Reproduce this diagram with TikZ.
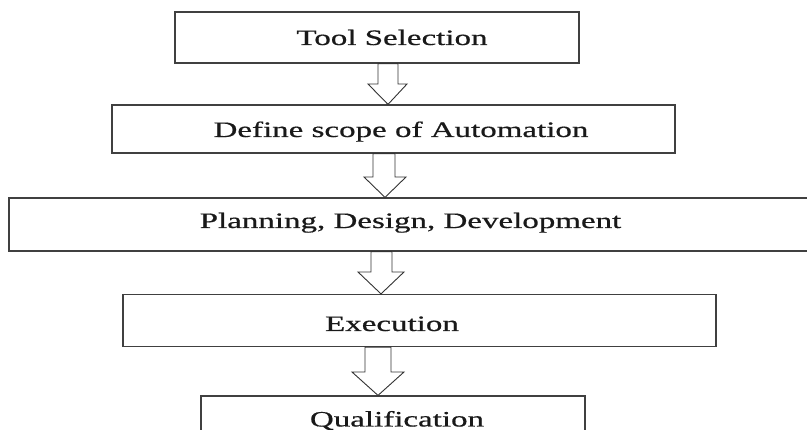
\documentclass[tikz,border=0pt]{standalone}
\usepackage{fontspec}
\setmainfont{Liberation Serif}
\newfontfamily\lblfont{Liberation Serif}[FakeBold=0.5]
\begin{document}
\begin{tikzpicture}[x=1pt,y=-1pt,
  box/.style={draw=black!75, line width=1.2pt, inner sep=0pt, fill=white},
  lbl/.style={font=\lblfont\fontsize{22}{26}\selectfont, anchor=base, inner sep=0pt, text=black!90},
  blk/.style={draw=black!80, line width=0.9pt, fill=white, line join=miter}]
\useasboundingbox (0,0) rectangle (807,430);
\clip (0,0) rectangle (807,430);
% boxes
\node[box, minimum width=404pt, minimum height=51pt] (b1) at (377,37.5) {};
\node[box, minimum width=563pt, minimum height=48pt] (b2) at (393.5,129) {};
\node[box, minimum width=831pt, minimum height=53pt] (b3) at (424.5,224.5) {};
\node[box, minimum width=593pt, minimum height=52pt] (b4) at (419.5,320.5) {};
\node[box, minimum width=384pt, minimum height=54pt] (b5) at (393,423) {};
% labels
\node[lbl] (t1) at (392,45) {\scalebox{1.5}[1]{Tool Selection}};
\node[lbl] (t2) at (401,137) {\scalebox{1.5}[1]{Define scope of Automation}};
\node[lbl] (t3) at (410.5,228) {\scalebox{1.5}[1]{Planning, Design, Development}};
\node[lbl] (t4) at (392,331) {\scalebox{1.5}[1]{Execution}};
\node[lbl] (t5) at (397,426.5) {\scalebox{1.5}[1]{Qualification}};
% hollow block arrows
\draw[blk] (378,0 |- b1.south) -- (378,84) -- (368,84) -- (388,0 |- b2.north)
  -- (407,84) -- (398,84) -- (398,0 |- b1.south) -- cycle;
\draw[blk] (373,0 |- b2.south) -- (373,177) -- (364,177) -- (385,0 |- b3.north)
  -- (406,177) -- (395,177) -- (395,0 |- b2.south) -- cycle;
\draw[blk] (371,0 |- b3.south) -- (371,272) -- (358,272) -- (381,0 |- b4.north)
  -- (404,272) -- (392,272) -- (392,0 |- b3.south) -- cycle;
\draw[blk] (365,0 |- b4.south) -- (365,372) -- (352,372) -- (378,0 |- b5.north)
  -- (404,372) -- (391,372) -- (391,0 |- b4.south) -- cycle;
\end{tikzpicture}
\end{document}
